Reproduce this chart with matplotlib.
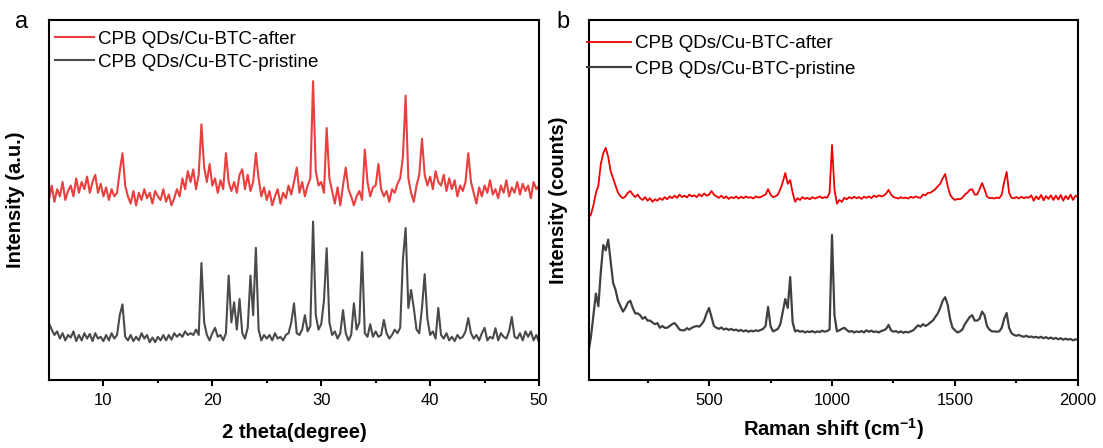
import numpy as np
import matplotlib
matplotlib.use("Agg")
import matplotlib.pyplot as plt

plt.rcParams['font.family'] = ['Liberation Sans', 'DejaVu Sans']

# ---- XRD data (2 theta, step 0.25 deg from 5 to 50) ----
theta = np.linspace(5, 50, 181)

xrd_after = [
    50, 54, 49.5, 53,   51, 55, 50, 52.5,   54, 51, 56, 52,   55, 53, 56.5, 52,
    55, 57, 52, 54.5,   51, 53.5, 50, 53,   51, 52, 58, 63,   54, 51, 49, 52.5,
    48.5, 52, 50, 53,   50.5, 52, 49, 52.5,   51, 50, 53, 49.5,   51.5, 48.5, 50.5, 53,
    51, 56, 53, 58,   55, 58.5, 53, 57,   71, 59, 55, 60,   54, 56, 52, 55.5,
    53, 63, 55, 52.5,   55, 52, 57, 58.5,   53, 57, 52.5, 55,   63, 56, 51, 53.5,
    50, 52.5, 48.5, 51,   53, 49, 52, 50.5,   54, 51.5, 55, 59,   52, 55, 51, 54,
    56, 83, 58, 54,   55, 52, 70, 56,   52.5, 49, 53.5, 48.5,   54, 59, 53, 51,
    48.5, 51, 52.5, 50,   64, 55, 51, 53.5,   54, 60, 53, 51,   52.5, 49.5, 53, 52,
    54.5, 56, 62, 79,   56, 52, 49.5, 54,   57, 67, 57, 54,   56.5, 53, 58, 55,
    54, 57, 52.5, 56,   53, 55.5, 51, 54,   52.5, 55, 63, 55,   52, 49, 53.5, 51,
    54, 52, 55.5, 51.5,   53, 50.5, 54, 52,   55.5, 51, 53.5, 52,   55, 51.5, 54.5, 52.5,
    54, 50.5, 55, 53,   54,
]

xrd_pristine = [
    15.8, 14, 12.5, 13.5,   11.5, 13, 11, 12.5,   11.8, 13.5, 10.8, 12.5,   11, 13, 11.5, 12.8,
    10.8, 13, 11.5, 12,   10.8, 12.5, 11, 13,   11.5, 12.5, 18, 21,   12, 11, 12.5, 10.8,
    12, 11, 13, 11.5,   12.5, 10.5, 11.8, 10.5,   12, 11, 12.5, 11,   12.5, 11.2, 13, 12,
    12.8, 12, 13.5, 12.5,   13, 12.5, 14, 12.5,   32.5, 16, 12.5, 11,   13, 14.5, 12, 12.5,
    11, 13, 29, 16,   21.6, 14, 22.5, 13,   11.5, 14.5, 29, 18,   36.7, 14, 11, 12.5,
    11.5, 12.5, 11, 13,   11.5, 12, 11, 12.5,   13, 16, 21.3, 13,   12.5, 14, 18, 13.5,
    15, 44, 18, 14,   15.5, 22, 36.6, 16,   12.5, 13.5, 11.5, 13,   19.4, 13, 11, 12.5,
    21.3, 14, 16, 35.5,   13, 12, 15.5, 12,   13.5, 12, 12.5, 16.7,   13, 11.5, 12.5, 14,
    13, 14.5, 33.5, 42.2,   20, 25, 20, 14,   13, 20, 29.4, 17,   12.5, 13.5, 11.5, 20,
    12.5, 11.5, 13, 11,   12, 10.8, 12.5, 11.5,   12, 13.5, 17.2, 13,   11.5, 12.5, 11, 13,
    14.5, 11, 12, 11.5,   14.4, 11, 13, 12,   11.5, 13.5, 17.5, 12,   11.5, 13, 11, 13.5,
    12, 13.5, 11, 12.5,   10.5,
]

# ---- Raman data (shift, step 10 cm-1 from 10 to 2000) ----
shift = np.linspace(10, 2000, 200)

raman_after = [
    45, 46, 48.5, 52, 54, 60, 63, 64.5, 62, 58,
    56, 54, 52, 51, 50.5, 51, 52, 52.5, 51.5, 50.8,
    51.5, 50.5, 50, 50.8, 49.8, 50.5, 49.5, 50.2, 49.8, 50.5,
    50, 50.8, 50.2, 51, 50.5, 51.2, 50.6, 51.5, 50.8, 51.2,
    50.7, 51.5, 51, 51.3, 50.8, 51.6, 51, 51.8, 51.2, 51.5,
    52.5, 51.5, 51, 50.6, 51.2, 50.5, 51, 50.3, 50.8, 50.5,
    51, 50.4, 50.9, 50.5, 51, 50.6, 50.8, 50.4, 51, 50.7,
    50.8, 51.2, 51.5, 53, 51.5, 50.8, 51, 51.5, 53, 55,
    57.5, 54.5, 55.5, 52, 49.5, 50.5, 50, 50.8, 50.3, 50.6,
    50.2, 50.8, 50.4, 50.7, 51, 50.5, 50.8, 50.6, 52, 65.3,
    53, 49, 50, 49.5, 50.6, 50.2, 50.8, 50.4, 50.9, 50.5,
    50.8, 50.3, 50.9, 50.6, 51, 50.5, 51.2, 50.8, 51.3, 51,
    51.2, 51.8, 52.8, 51.5, 50.8, 50.6, 50.4, 50.8, 50.5, 50.7,
    50.4, 50.9, 50.6, 51, 50.7, 50.6, 51.5, 51.3, 52, 52,
    52.5, 53, 53.8, 54.5, 56, 57.2, 54, 51.5, 50.5, 50,
    50.3, 50.2, 50.6, 51.5, 52, 52.8, 53, 51.5, 51.5, 53,
    54.7, 53, 51, 50.5, 50.6, 50.4, 50.7, 50.5, 51.5, 55,
    57.8, 52, 50.6, 50.5, 50.8, 50.4, 50.9, 50.5, 50.8, 50.6,
    51.3, 49.8, 51, 50.2, 51.4, 49.9, 51.1, 50.3, 51.3, 50,
    51.2, 50.1, 51.4, 49.8, 51.1, 50.2, 51.5, 50, 51.2, 50.8,
]

raman_pristine = [
    7.8, 12, 18, 24, 20.5, 30, 37.5, 36, 39, 33,
    27, 25, 22, 20.5, 19, 20, 21.5, 22, 20, 18.5,
    18.5, 18, 17, 17.5, 16.5, 16.5, 16, 15.5, 15.8, 14.5,
    15, 14.5, 14.5, 15, 15.5, 15.8, 15, 14, 13.8, 13.8,
    14.4, 14, 14.5, 14.8, 15, 14.8, 15.5, 16.5, 18.5, 20,
    17.5, 15, 14.5, 14.2, 14.6, 14, 14.3, 13.9, 14.2, 13.8,
    14, 13.6, 13.9, 13.5, 13.8, 13.4, 13.7, 13.5, 13.8, 13.6,
    13.9, 14.2, 15, 20.3, 15, 13.5, 13.8, 14.2, 15.5, 19,
    22.5, 20, 28.6, 16, 13.5, 13.8, 13.4, 13.6, 13.2, 13.5,
    13.3, 13.6, 13.2, 13.5, 13.3, 13.7, 13.4, 13.6, 14, 40.3,
    18, 13.5, 13.8, 14.2, 14.5, 13.9, 13.4, 13.6, 13.2, 13.5,
    13.3, 13.6, 13.2, 13.8, 13.4, 13.7, 13.3, 13.5, 13.2, 13.6,
    13.8, 14.2, 15.3, 13.8, 13.4, 13.6, 13.2, 13.5, 13.1, 13.4,
    13.2, 13.5, 13.8, 14.5, 15.2, 14.8, 15.5, 15, 15.4, 16,
    16.5, 17.5, 18.5, 20, 22, 23, 21, 17, 14.5, 13.8,
    13.2, 13.5, 14, 15.5, 16.5, 17.5, 18, 16.5, 16.5, 17,
    19, 18, 15, 14, 13.5, 13.5, 13.4, 13.5, 14.5, 17,
    18.6, 14.5, 13, 12.5, 12.3, 12.5, 12.2, 12, 12.3, 11.9,
    12.1, 11.8, 12, 11.7, 12, 11.6, 11.9, 11.5, 11.8, 11.4,
    11.7, 11.3, 11.6, 11.2, 11.5, 11.2, 11.4, 11, 11.3, 11.1,
]

labels = ['CPB QDs/Cu-BTC-after', 'CPB QDs/Cu-BTC-pristine']

fig = plt.figure(figsize=(11.03, 4.48), dpi=100)
ax1 = fig.add_axes([0.0444, 0.1518, 0.4443, 0.8036])
ax2 = fig.add_axes([0.534, 0.1518, 0.4433, 0.8036])

ax1.plot(theta, xrd_after, color='#e8403f', lw=1.5, label=labels[0])
ax1.plot(theta, xrd_pristine, color='#4a4a4a', lw=1.5, label=labels[1])
ax1.set_xlim(5, 50)
ax1.set_xticks([10, 20, 30, 40, 50])
ax1.set_xticks([15, 25, 35, 45], minor=True)
ax1.set_xlabel('2 theta(degree)', fontsize=14.5, fontweight='bold', labelpad=11)
ax1.set_ylabel('Intensity (a.u.)', fontsize=14.5, fontweight='bold', labelpad=17)

ax2.plot(shift, raman_after, color='#f00000', lw=1.3, label=labels[0])
ax2.plot(shift, raman_pristine, color='#404040', lw=1.6, label=labels[1])
ax2.set_xlim(12, 2000)
ax2.set_xticks([500, 1000, 1500, 2000])
ax2.set_xticks([250, 750, 1250, 1750], minor=True)
ax2.set_xlabel('Raman shift (cm$^{\\mathregular{-1}}$)', fontsize=14.5, fontweight='bold', labelpad=6)
ax2.set_ylabel('Intensity (counts)', fontsize=14.5, fontweight='bold', labelpad=15)

for ax in (ax1, ax2):
    ax.set_ylim(0, 100)
    ax.set_yticks([])
    for s in ax.spines.values():
        s.set_linewidth(1.5)
    ax.tick_params(axis='x', which='major', direction='out', length=4, width=1.5, labelsize=12, pad=5.5)
    ax.tick_params(axis='x', which='minor', direction='out', length=2.5, width=1.5)

ax1.legend(loc='upper left', bbox_to_anchor=(0.012, 0.97), frameon=False, fontsize=13.5,
           handlelength=2.1, handletextpad=0.2, labelspacing=0.3, borderaxespad=0, borderpad=0)
ax2.legend(loc='upper left', bbox_to_anchor=(-0.004, 0.958), frameon=False, fontsize=13.5,
           handlelength=2.35, handletextpad=0.2, labelspacing=0.45, borderaxespad=0, borderpad=0)

fig.text(0.02, 0.95, 'a', fontsize=17, ha='center', va='center')
fig.text(0.51, 0.95, 'b', fontsize=17, ha='center', va='center')

fig.savefig('out.png', dpi=100)
